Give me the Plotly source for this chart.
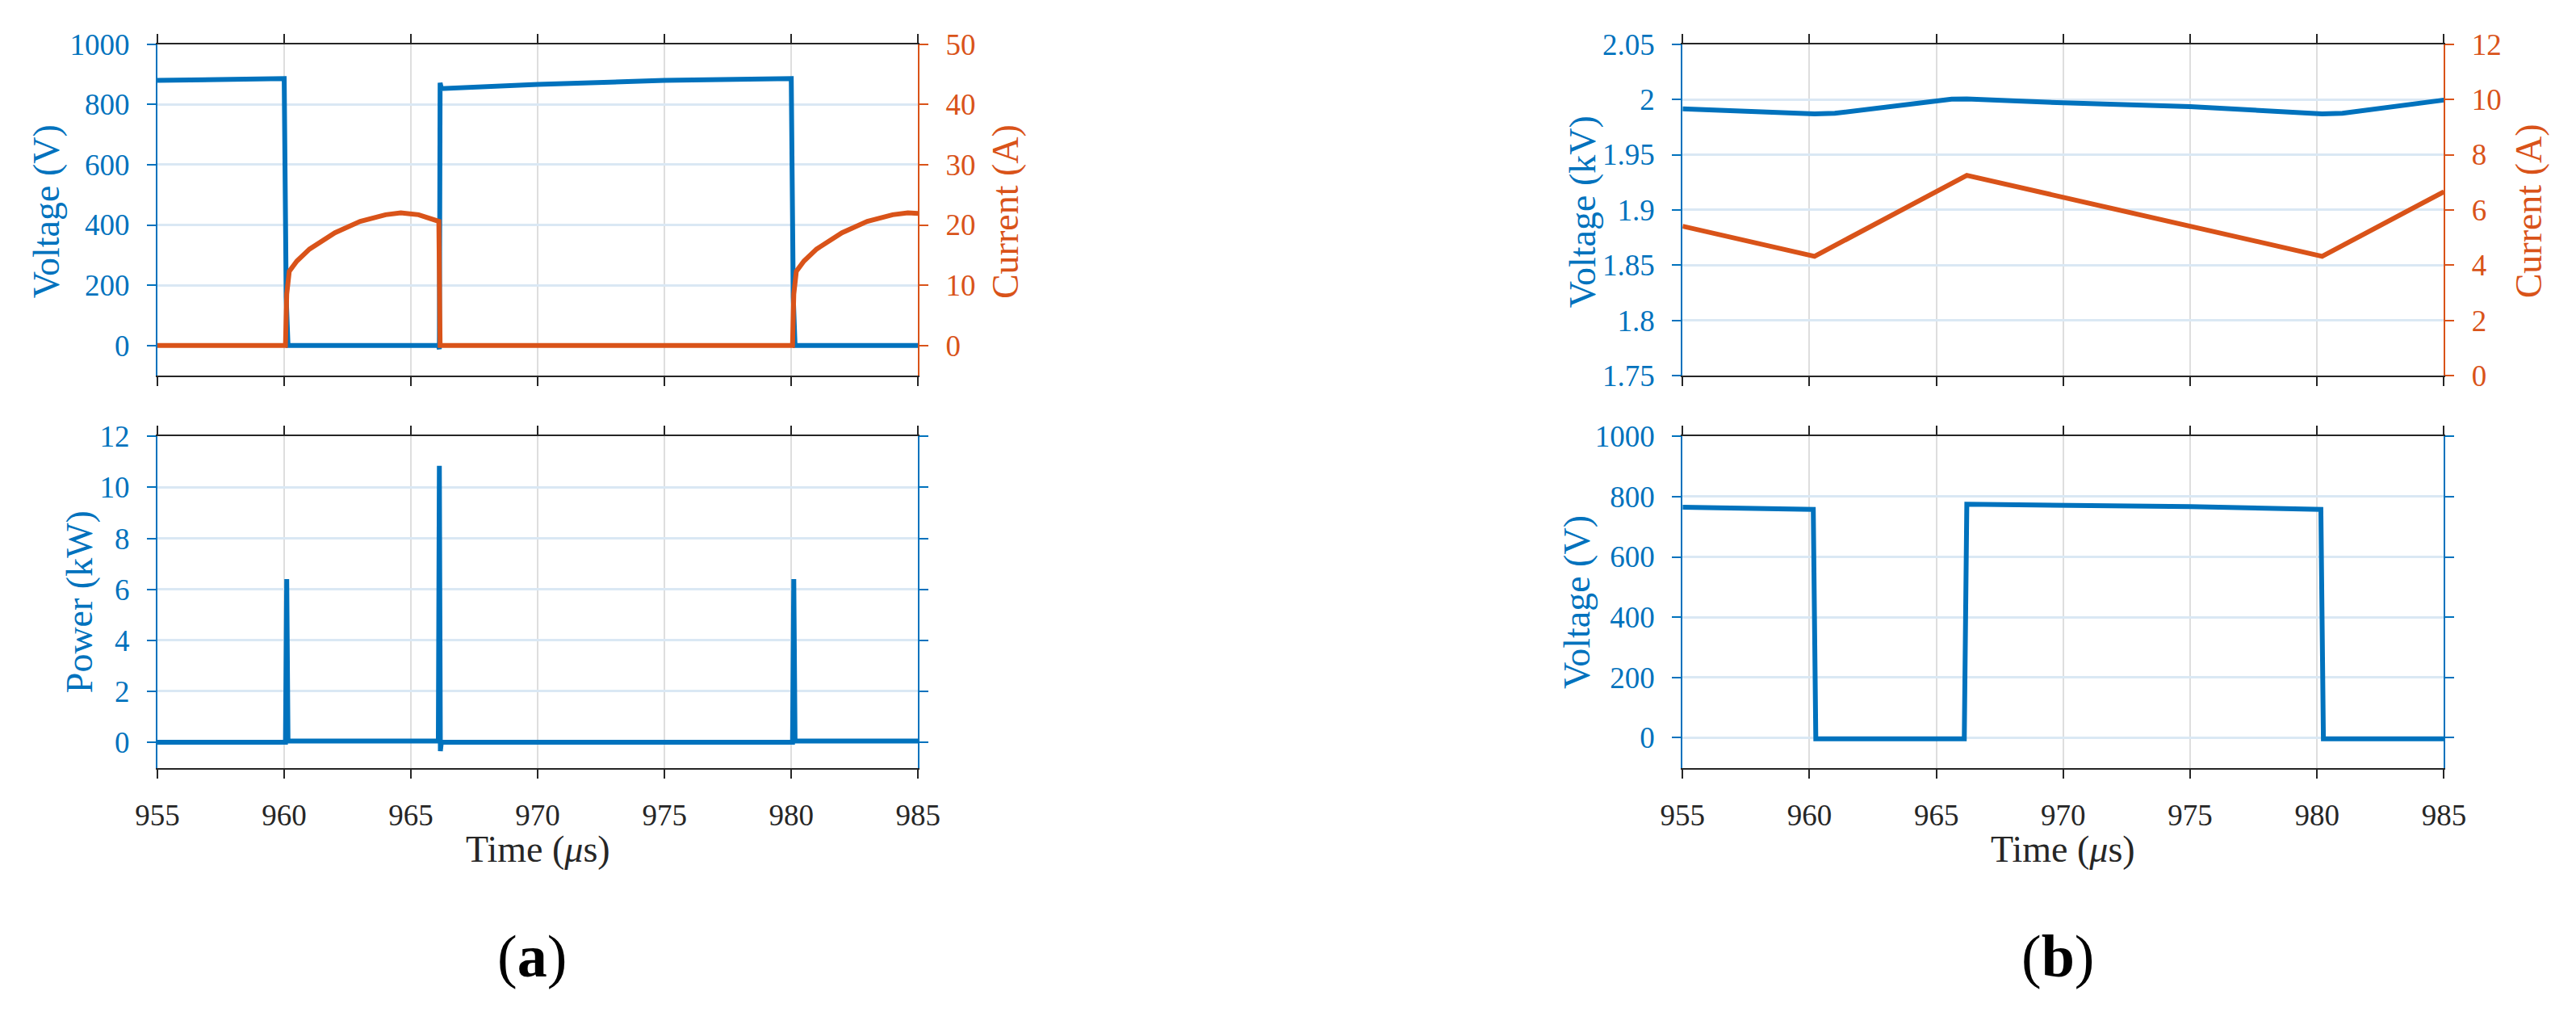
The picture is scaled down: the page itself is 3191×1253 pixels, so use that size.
import plotly.graph_objects as go

# ---------------- data ----------------
# (a) top: switch voltage (V) and current (A)
t_a_volt = [955.0, 960.0, 960.08, 960.15, 966.08, 966.12, 966.15, 966.2, 970.0, 975.0, 980.0, 980.08, 980.15, 985.0]
v_a_volt = [880, 886, 160, 0, 0, -12, 872, 853, 867, 880, 886, 160, 0, 0]

t_a_cur = [955.0, 960.05, 960.1, 960.2, 960.5, 961.0, 962.0, 963.0, 964.0, 964.6, 965.3, 966.1, 966.15,
           980.05, 980.1, 980.2, 980.5, 981.0, 982.0, 983.0, 984.0, 984.6, 985.0]
i_a_cur = [0, 0, 8.5, 12.3, 14.0, 16.0, 18.7, 20.6, 21.7, 22.0, 21.7, 20.6, 0,
           0, 8.5, 12.3, 14.0, 16.0, 18.7, 20.6, 21.7, 22.0, 21.9]

# (a) bottom: power (kW)
t_a_pow = [955.0, 960.05, 960.1, 960.15, 966.08, 966.12, 966.16, 966.2, 980.05, 980.1, 980.15, 985.0]
p_a_pow = [0, 0, 6.4, 0.05, 0.05, 10.85, -0.35, 0, 0, 6.4, 0.05, 0.05]

# (b) top: voltage (kV) and current (A)
t_b_volt = [955.0, 960.2, 961.0, 963.5, 965.6, 966.2, 970.0, 975.0, 980.2, 981.0, 983.5, 985.0]
v_b_volt = [1.9915, 1.9870, 1.9875, 1.9945, 2.0003, 2.0005, 1.9970, 1.9935, 1.9870, 1.9875, 1.9945, 1.9995]
t_b_cur = [955.0, 960.2, 966.2, 980.2, 985.0]
i_b_cur = [5.41, 4.32, 7.25, 4.32, 6.66]

# (b) bottom: voltage (V)
t_b_vout = [955.0, 960.15, 960.25, 966.1, 966.2, 970.0, 975.0, 980.15, 980.25, 985.0]
v_b_vout = [765, 758, -4, -4, 775, 772, 767, 758, -4, -4]

x_ticks = [955, 960, 965, 970, 975, 980, 985]
ya_top_ticks = [0, 200, 400, 600, 800, 1000]
ya_top_r_ticks = [0, 10, 20, 30, 40, 50]
ya_bot_ticks = [0, 2, 4, 6, 8, 10, 12]
yb_top_ticks = [1.75, 1.8, 1.85, 1.9, 1.95, 2.0, 2.05]
yb_top_labels = ["1.75", "1.8", "1.85", "1.9", "1.95", "2", "2.05"]
yb_top_r_ticks = [0, 2, 4, 6, 8, 10, 12]
yb_bot_ticks = [0, 200, 400, 600, 800, 1000]

# ---------------- style ----------------
W, H = 3191, 1253
BLUE = "#0072BD"
ORANGE = "#D95319"
DARK = "#262626"
FONT = "Liberation Serif, Times New Roman, serif"
TICK_FS = 37
TITLE_FS = 46
LW = 6

def px_x(p):
    return p / W

def px_y(p):
    return 1 - p / H

XA = [px_x(170), px_x(1129)]
XB = [px_x(2093), px_x(3053)]
YT = [px_y(460), px_y(36)]
YB = [px_y(962), px_y(538)]

def xaxis(domain, anchor, labels):
    return dict(domain=domain, anchor=anchor, range=[955, 985], tickmode="array", tickvals=x_ticks,
                showticklabels=labels, ticks="outside", ticklen=11, tickwidth=2, tickcolor=DARK,
                showline=True, linecolor=DARK, linewidth=2, mirror="ticks",
                showgrid=True, gridcolor="#dedede", gridwidth=2, zeroline=False,
                tickfont=dict(family=FONT, size=TICK_FS, color=DARK), ticklabelstandoff=14)

def yaxis(domain, anchor, rng, tickvals, color, ticktext=None, mirror=False, grid=True,
          side="left", overlaying=None, labels=True):
    d = dict(domain=domain, anchor=anchor, range=rng, tickmode="array", tickvals=tickvals,
             ticks="outside", ticklen=11, tickwidth=2, tickcolor=color,
             showline=True, linecolor=color, linewidth=2, mirror=mirror,
             showgrid=grid, gridcolor="#dae8f4", gridwidth=3, zeroline=False, side=side,
             showticklabels=labels,
             tickfont=dict(family=FONT, size=TICK_FS, color=color), ticklabelstandoff=14)
    if ticktext is not None:
        d["ticktext"] = ticktext
    if overlaying is not None:
        d["overlaying"] = overlaying
    return d

fig = go.Figure()

# (a) top
fig.add_trace(go.Scatter(x=t_a_volt, y=v_a_volt, mode="lines", line=dict(color=BLUE, width=LW),
                         xaxis="x", yaxis="y", showlegend=False, hoverinfo="skip"))
fig.add_trace(go.Scatter(x=t_a_cur, y=i_a_cur, mode="lines", line=dict(color=ORANGE, width=LW),
                         xaxis="x", yaxis="y2", showlegend=False, hoverinfo="skip"))
# (a) bottom
fig.add_trace(go.Scatter(x=t_a_pow, y=p_a_pow, mode="lines", line=dict(color=BLUE, width=LW),
                         xaxis="x2", yaxis="y3", showlegend=False, hoverinfo="skip"))
# (b) top
fig.add_trace(go.Scatter(x=t_b_volt, y=v_b_volt, mode="lines", line=dict(color=BLUE, width=LW),
                         xaxis="x3", yaxis="y4", showlegend=False, hoverinfo="skip"))
fig.add_trace(go.Scatter(x=t_b_cur, y=i_b_cur, mode="lines", line=dict(color=ORANGE, width=LW),
                         xaxis="x3", yaxis="y5", showlegend=False, hoverinfo="skip"))
# (b) bottom
fig.add_trace(go.Scatter(x=t_b_vout, y=v_b_vout, mode="lines", line=dict(color=BLUE, width=LW),
                         xaxis="x4", yaxis="y6", showlegend=False, hoverinfo="skip"))

layout = dict(
    width=W, height=H, autosize=False,
    margin=dict(l=0, r=0, t=0, b=0),
    paper_bgcolor="white", plot_bgcolor="white",
    font=dict(family=FONT, color=DARK),
    xaxis=xaxis(XA, "y", False),
    yaxis=yaxis(YT, "x", [-100, 1000], ya_top_ticks, BLUE),
    yaxis2=yaxis(YT, "x", [-5, 50], ya_top_r_ticks, ORANGE, grid=False, side="right", overlaying="y"),
    xaxis2=xaxis(XA, "y3", True),
    yaxis3=yaxis(YB, "x2", [-1, 12], ya_bot_ticks, BLUE, mirror="ticks"),
    xaxis3=xaxis(XB, "y4", False),
    yaxis4=yaxis(YT, "x3", [1.75, 2.05], yb_top_ticks, BLUE, ticktext=yb_top_labels),
    yaxis5=yaxis(YT, "x3", [0, 12], yb_top_r_ticks, ORANGE, grid=False, side="right", overlaying="y4"),
    xaxis4=xaxis(XB, "y6", True),
    yaxis6=yaxis(YB, "x4", [-100, 1000], yb_bot_ticks, BLUE, mirror="ticks"),
)
fig.update_layout(**layout)

def ann(text, x, y, color, size, angle=0):
    fig.add_annotation(text=text, x=px_x(x), y=px_y(y), xref="paper", yref="paper",
                       xanchor="center", yanchor="middle", showarrow=False, textangle=angle,
                       font=dict(family=FONT, size=size, color=color))

ann("Voltage (V)", 30, 250, BLUE, TITLE_FS, -90)
ann("Current (A)", 1240, 250, ORANGE, TITLE_FS, -90)
ann("Power (kW)", 72, 750, BLUE, TITLE_FS, -90)
ann("Time (<i>μ</i>s)", 650, 1066, DARK, TITLE_FS)
ann("(<b>a</b>)", 642, 1203, "black", 74)

ann("Voltage (kV)", 1967, 250, BLUE, TITLE_FS, -90)
ann("Current (A)", 3160, 250, ORANGE, TITLE_FS, -90)
ann("Voltage (V)", 1960, 750, BLUE, TITLE_FS, -90)
ann("Time (<i>μ</i>s)", 2573, 1066, DARK, TITLE_FS)
ann("(<b>b</b>)", 2566, 1203, "black", 74)

fig.write_html("out.html", config={"displayModeBar": False},
               post_script="document.body.style.margin='0';document.body.style.overflow='hidden';")
